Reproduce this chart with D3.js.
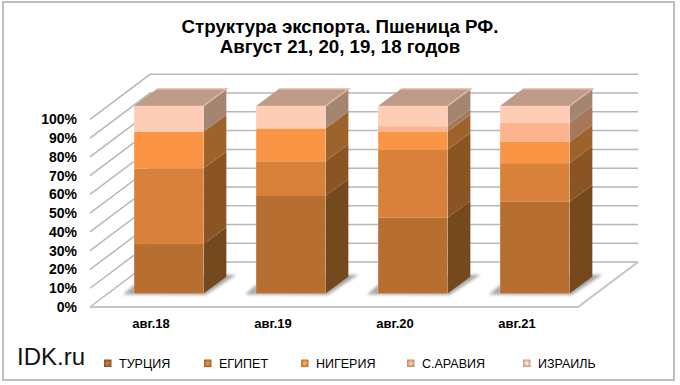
<!DOCTYPE html>
<html>
<head>
<meta charset="utf-8">
<script src="https://cdn.jsdelivr.net/npm/d3@7"></script>
<style>
    html, body { margin: 0; padding: 0; background: #fff; }
    svg { display: block; font-family: "Liberation Sans", Arial, sans-serif; }
    .axis text { font-weight: bold; fill: #000; }
</style>
</head>
<body>
<div id="chart"></div>
<script>
const categories = ["авг.18", "авг.19", "авг.20", "авг.21"];
const seriesNames = ["ТУРЦИЯ", "ЕГИПЕТ", "НИГЕРИЯ", "С.АРАВИЯ", "ИЗРАИЛЬ"];

const turkey = [26.4, 52.0, 40.4, 48.9];
const egypt = [40.3, 18.5, 36.2, 20.6];
const nigeria = [19.5, 17.5, 9.8, 11.3];
const saudi = [0, 0, 2.8, 10.2];
const israel = [13.8, 12.0, 10.8, 9.0];

const yTicks = [0, 10, 20, 30, 40, 50, 60, 70, 80, 90, 100];
const titleLines = ["Структура экспорта. Пшеница РФ.", "Август 21, 20, 19, 18 годов"];

const frontColours = ["#B76E31", "#D8813A", "#FA9546", "#FBB48E", "#FDCDB5"];
const sideColours = ["#75491E", "#8A5424", "#9E632B", "#A67859", "#A48572"];
const topColour = "#BE9B86";
const gridColour = "#B7B7B7";

const width = 680, height = 385;
const wallDx = 60, wallDy = 45;      // floor depth, front edge to back wall
const barInsetDx = 17.8, barInsetDy = 13.4;   // bar front face sits this far into the floor
const barDx = 22.8, barDy = 16.8;    // depth of one bar
const barWidth = 69.5;
const plot = { left: 90, right: 578, top: 119.3, bottom: 307 };

const svg = d3.select("#chart").append("svg")
    .attr("width", width)
    .attr("height", height);

const defs = svg.append("defs");
defs.append("filter").attr("id", "soft")
    .attr("x", "-20%").attr("y", "-40%").attr("width", "140%").attr("height", "180%")
    .append("feGaussianBlur").attr("stdDeviation", 1.8);

const legendGrad = defs.selectAll("radialGradient")
    .data(frontColours)
    .enter()
    .append("radialGradient")
    .attr("id", (d, i) => "marker" + i);
legendGrad.append("stop").attr("offset", "25%").attr("stop-color", d => d3.color(d).brighter(0.3));
legendGrad.append("stop").attr("offset", "100%").attr("stop-color", d => d3.color(d).darker(0.7));

// outer frame
svg.append("rect")
    .attr("x", 3).attr("y", 2)
    .attr("width", 671).attr("height", 378)
    .attr("fill", "#fff")
    .attr("stroke", "#BFBFBF")
    .attr("stroke-width", 2);

const x = d3.scaleBand().domain(categories).range([plot.left, plot.right]);
const y = d3.scaleLinear().domain([0, 100]).range([plot.bottom, plot.top]);

const table = categories.map((c, i) => ({
    category: c,
    [seriesNames[0]]: turkey[i],
    [seriesNames[1]]: egypt[i],
    [seriesNames[2]]: nigeria[i],
    [seriesNames[3]]: saudi[i],
    [seriesNames[4]]: israel[i],
}));
const stacked = d3.stack().keys(seriesNames)(table);

const pts = list => list.map(p => p.join(",")).join(" ");

// left wall and back wall grid
const grid = svg.append("g").attr("fill", "none").attr("stroke", gridColour).attr("stroke-width", 1.5);
grid.selectAll("polyline")
    .data(yTicks)
    .enter()
    .append("polyline")
    .attr("points", d => pts([
        [plot.left, y(d)],
        [plot.left + wallDx, y(d) - wallDy],
        [plot.right + wallDx, y(d) - wallDy],
    ]));
// front and right edge of the floor
grid.append("polyline")
    .attr("stroke", "#C4C4C4")
    .attr("stroke-width", 2)
    .attr("points", pts([
        [plot.left, y(0)],
        [plot.right, y(0)],
        [plot.right + wallDx, y(0) - wallDy],
    ]));

const barLeft = c => x(c) + (x.bandwidth() - barWidth) / 2 + barInsetDx;

// floor shadows
svg.append("g").attr("filter", "url(#soft)")
    .selectAll("polygon")
    .data(categories)
    .enter()
    .append("polygon")
    .attr("fill", "#A8A8A8")
    .attr("points", c => {
        const x0 = barLeft(c), b = y(0) - barInsetDy;
        return pts([
            [x0 - 11, b + 1],
            [x0 + barWidth + 2, b + 1.5],
            [x0 + barWidth + barDx + 10, b - barDy - 2],
            [x0 + 12, b - barDy - 2],
        ]);
    });

// bars
const bars = svg.append("g");
stacked.forEach((layer, s) => {
    const g = bars.append("g").attr("class", "series");
    g.selectAll("polygon.side")
        .data(layer.filter(d => d[1] > d[0]))
        .enter()
        .append("polygon")
        .attr("class", "side")
        .attr("fill", sideColours[s])
        .attr("points", d => {
            const x1 = barLeft(d.data.category) + barWidth;
            const y0 = y(d[0]) - barInsetDy, y1 = y(d[1]) - barInsetDy;
            return pts([[x1, y0], [x1, y1], [x1 + barDx, y1 - barDy], [x1 + barDx, y0 - barDy]]);
        });
    g.selectAll("rect.front")
        .data(layer.filter(d => d[1] > d[0]))
        .enter()
        .append("rect")
        .attr("class", "front")
        .attr("fill", frontColours[s])
        .attr("x", d => barLeft(d.data.category))
        .attr("y", d => y(d[1]) - barInsetDy)
        .attr("width", barWidth)
        .attr("height", d => y(d[0]) - y(d[1]));
});

// thin light edges and the bar tops
const caps = bars.append("g").selectAll("g")
    .data(categories)
    .enter()
    .append("g");
caps.append("polygon")
    .attr("fill", topColour)
    .attr("points", c => {
        const x0 = barLeft(c), t = y(100) - barInsetDy;
        return pts([
            [x0, t],
            [x0 + barWidth, t],
            [x0 + barWidth + barDx, t - barDy],
            [x0 + barDx, t - barDy],
        ]);
    });
caps.append("polyline")
    .attr("fill", "none")
    .attr("stroke", "#DDB9A3")
    .attr("stroke-width", 1.5)
    .attr("points", c => {
        const x0 = barLeft(c), t = y(100) - barInsetDy;
        return pts([
            [x0 + barDx, t - barDy],
            [x0 + barWidth + barDx, t - barDy],
            [x0 + barWidth, t],
        ]);
    });
caps.append("rect")
    .attr("fill", "none")
    .attr("stroke", "#fff")
    .attr("stroke-opacity", 0.22)
    .attr("x", c => barLeft(c))
    .attr("y", y(100) - barInsetDy)
    .attr("width", barWidth)
    .attr("height", y(0) - y(100));

// axes
const yAxis = svg.append("g")
    .attr("class", "axis")
    .attr("transform", `translate(${plot.left - 13},0)`)
    .call(d3.axisLeft(y).tickValues(yTicks).tickFormat(d => d + "%").tickSize(0).tickPadding(0));
yAxis.select(".domain").remove();
yAxis.selectAll("text").attr("font-size", 14).attr("font-family", "Liberation Sans");

const xAxis = svg.append("g")
    .attr("class", "axis")
    .attr("transform", `translate(0,${y(0)})`)
    .call(d3.axisBottom(x).tickSize(0).tickPadding(12));
xAxis.select(".domain").remove();
xAxis.selectAll("text").attr("font-size", 13).attr("font-family", "Liberation Sans");

// title
svg.append("g")
    .selectAll("text")
    .data(titleLines)
    .enter()
    .append("text")
    .attr("x", 340)
    .attr("y", (d, i) => 33 + i * 20)
    .attr("text-anchor", "middle")
    .attr("font-size", 18.7)
    .attr("font-weight", "bold")
    .text(d => d);

// watermark
svg.append("text")
    .attr("x", 17).attr("y", 365)
    .attr("font-size", 24)
    .attr("fill", "#111")
    .text("IDK.ru");

// legend
const legendX = [104, 204, 301, 407, 523];
const legend = svg.append("g").selectAll("g")
    .data(seriesNames)
    .enter()
    .append("g")
    .attr("transform", (d, i) => `translate(${legendX[i]},363)`);
legend.append("rect")
    .attr("x", 0).attr("y", -3.5)
    .attr("width", 7.5).attr("height", 7.5)
    .attr("fill", (d, i) => `url(#marker${i})`);
legend.append("text")
    .attr("x", 15).attr("y", 4.5)
    .attr("font-size", 12.5)
    .text(d => d);
</script>
</body>
</html>
